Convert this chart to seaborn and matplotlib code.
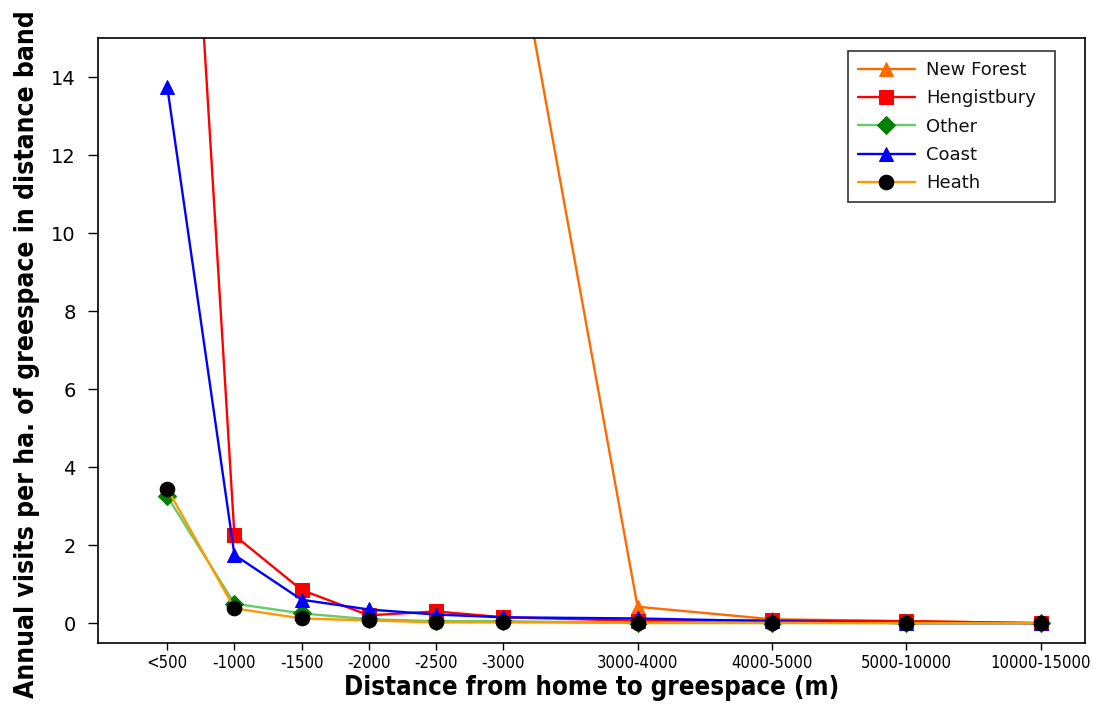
import matplotlib
matplotlib.use("Agg")
import matplotlib.pyplot as plt
from matplotlib import font_manager as fm
import seaborn as sns
import numpy as np
import pandas as pd

# Distance bands and annual visits per ha. of greenspace
bands = ["<500", "-1000", "-1500", "-2000", "-2500", "-3000",
         "3000-4000", "4000-5000", "5000-10000", "10000-15000"]
new_forest = [np.nan, np.nan, np.nan, np.nan, np.nan, 19.4, 0.42, 0.1, 0.05, 0.0]
hengistbury = [30.4, 2.25, 0.85, 0.2, 0.3, 0.15, 0.06, 0.07, 0.05, 0.0]
other = [3.25, 0.5, 0.25, 0.1, 0.05, 0.05, 0.0, 0.0, 0.0, 0.0]
coast = [13.75, 1.75, 0.6, 0.35, 0.22, 0.15, 0.12, 0.05, 0.0, 0.0]
heath = [3.45, 0.38, 0.12, 0.07, 0.02, 0.02, 0.01, 0.01, 0.0, 0.0]

# x positions: half-km steps up to 3 km, then one unit per band
xpos = [0.5, 1.0, 1.5, 2.0, 2.5, 3.0, 4.0, 5.0, 6.0, 7.0]

series = [
    ("New Forest", new_forest, "#ff6a00", "#ff6a00", "^"),
    ("Hengistbury", hengistbury, "#ff0000", "#ff0000", "s"),
    ("Other", other, "#66cc66", "#008000", "D"),
    ("Coast", coast, "#0000ff", "#0000ff", "^"),
    ("Heath", heath, "#ff9900", "#000000", "o"),
]

# Pick a narrow face for axis titles and x tick labels if one is installed
narrow = None
for f in fm.fontManager.ttflist:
    if f.stretch in ("condensed", "semi-condensed", "extra-condensed") or \
            "Narrow" in f.name or "Condensed" in f.name:
        narrow = f
        break
if narrow is not None:
    nkw = {"family": narrow.name, "stretch": narrow.stretch}
    lab_size, tick_size = 18.5, 12
else:
    nkw = {"family": "DejaVu Sans"}
    lab_size, tick_size = 14.5, 9.5

sns.set_style("white")
fig = plt.figure(figsize=(10.99, 7.11), dpi=100)
ax = fig.add_axes([0.0892, 0.0956, 0.8981, 0.8509])

for name, vals, lc, mc, mk in series:
    df = pd.DataFrame({"x": xpos, "y": vals}).dropna()
    sns.lineplot(data=df, x="x", y="y", ax=ax, color=lc, linewidth=1.7,
                 marker=mk, markersize=10.5 if mk != "D" else 9.5,
                 markerfacecolor=mc, markeredgecolor=mc, label=name)

ax.set_xlim(-0.015, 7.33)
ax.set_ylim(-0.51, 15)
ax.set_xticks(xpos)
ax.set_xticklabels(bands, fontsize=tick_size, color="black", **nkw)
ax.set_yticks([0, 2, 4, 6, 8, 10, 12, 14])
ax.set_yticklabels([str(v) for v in [0, 2, 4, 6, 8, 10, 12, 14]],
                   family="DejaVu Sans", fontsize=14, color="black")
ax.tick_params(axis="y", direction="out", length=7, width=1, left=True,
               colors="black", pad=9)
ax.tick_params(axis="x", direction="out", length=5, width=1, bottom=True,
               colors="black", pad=3)

for sp in ax.spines.values():
    sp.set_visible(True)
    sp.set_color("black")
    sp.set_linewidth(1.2)

ax.set_xlabel("Distance from home to greespace (m)", fontsize=lab_size,
              fontweight="bold", color="black", labelpad=2, **nkw)
ax.set_ylabel("Annual visits per ha. of greespace in distance band",
              fontsize=19, fontweight="bold", color="black", **nkw)
ax.yaxis.set_label_coords(-0.059, 0.478)

leg = ax.legend(loc="upper left", bbox_to_anchor=(0.7599, 0.9785 - 0.2479, 0.2097, 0.2479),
                mode="expand", frameon=True, fancybox=False, edgecolor="black",
                borderaxespad=0, handlelength=3.15, labelspacing=0.57,
                borderpad=0.55, handletextpad=0.62,
                prop={"family": "DejaVu Sans", "size": 13})
leg.get_frame().set_linewidth(1.2)
for t in leg.get_texts():
    t.set_color("#111111")

fig.savefig("out.png", dpi=100)
